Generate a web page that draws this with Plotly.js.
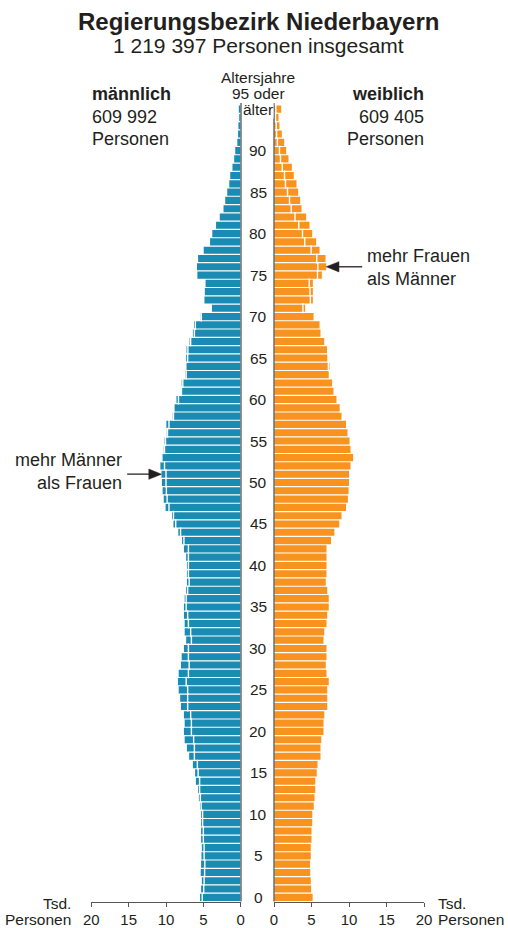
<!DOCTYPE html>
<html>
<head>
<meta charset="utf-8">
<script src="https://cdn.plot.ly/plotly-3.0.1.min.js"></script>
<style>html,body{margin:0;padding:0;background:#fff;}#chart{width:508px;height:928px;}</style>
</head>
<body>
<div id="chart"></div>
<script>
// ---- data (thousand persons per single year of age, index = age, 95 = "95 oder älter") ----
const ages = Array.from({length: 96}, (_, i) => i);
const male = [
  5.45, 5.3, 5.2, 5.35, 5.3, 5.25, 5.2, 5.3, 5.3, 5.3,
  5.3, 5.45, 5.6, 5.7, 6.0, 6.1, 6.4, 6.9, 7.2, 7.5,
  7.6, 7.5, 7.6, 8.0, 8.1, 8.3, 8.4, 8.3, 8.0, 7.9,
  7.6, 7.3, 7.5, 7.5, 7.6, 7.6, 7.5, 7.3, 7.2, 7.2,
  7.2, 7.3, 7.6, 7.85, 8.35, 9.0, 9.2, 10.05, 10.3, 10.45,
  10.55, 10.6, 10.75, 10.57, 10.3, 10.2, 9.9, 9.95, 9.1, 8.85,
  8.6, 8.0, 7.9, 7.4, 7.25, 7.3, 7.25, 6.85, 6.4, 6.25,
  5.35, 3.85, 4.85, 4.8, 4.7, 5.8, 5.85, 5.7, 4.95, 4.1,
  3.8, 3.3, 2.8, 2.3, 2.07, 1.8, 1.53, 1.4, 1.1, 0.87,
  0.73, 0.45, 0.35, 0.3, 0.2, 0.25
];
const female = [
  5.15, 4.95, 4.9, 4.83, 4.8, 4.9, 4.9, 5.0, 5.0, 5.1,
  5.1, 5.3, 5.4, 5.5, 5.5, 5.7, 5.8, 6.2, 6.2, 6.3,
  6.6, 6.6, 6.7, 7.1, 7.1, 7.1, 7.3, 7.0, 6.9, 7.0,
  7.0, 6.6, 6.7, 7.0, 7.1, 7.3, 7.3, 7.1, 6.9, 7.0,
  7.0, 7.0, 7.0, 7.6, 8.05, 8.7, 9.0, 9.6, 9.85, 9.95,
  10.0, 10.0, 10.2, 10.55, 10.2, 10.07, 9.8, 9.6, 9.0, 8.87,
  8.33, 7.93, 7.75, 7.3, 7.4, 7.1, 7.07, 6.7, 6.2, 6.07,
  5.27, 4.15, 5.18, 5.18, 5.18, 6.38, 6.96, 6.87, 6.07, 5.62,
  5.09, 4.73, 4.29, 3.67, 3.49, 3.22, 3.0, 2.64, 2.38, 1.93,
  1.62, 1.36, 1.04, 0.73, 0.6, 0.96
];
const ageTicks = [0, 5, 10, 15, 20, 25, 30, 35, 40, 45, 50, 55, 60, 65, 70, 75, 80, 85, 90];
const xTicks = [0, 5, 10, 15, 20];
const xTickText = ['0', '5', '10', '15', '20'];

const titleText = 'Regierungsbezirk Niederbayern';
const subtitleText = '1 219 397 Personen insgesamt';
const maleLabel = ['männlich', '609 992', 'Personen'];
const femaleLabel = ['weiblich', '609 405', 'Personen'];
const noteFemale = 'mehr Frauen<br>als Männer';
const noteMale = 'mehr Männer<br>als Frauen';

// ---- styling ----
const W = 508, H = 928;
const px = x => x / W;
const py = y => 1 - y / H;
const FONT = 'Liberation Sans, Arial, Helvetica, sans-serif';
const TXT = '#231f20';
const BLUE = '#1a8bb2';
const ORANGE = '#f7931e';

// white divider where the other sex's count lies inside the own bar
function dividers(own, other) {
  const a = [], x = [];
  own.forEach((v, i) => { if (other[i] < v) { a.push(ages[i]); x.push(other[i]); } });
  return {a, x};
}
const dm = dividers(male, female);
const df = dividers(female, male);

const traces = [
  {type: 'bar', orientation: 'h', x: male, y: ages, xaxis: 'x', yaxis: 'y',
   marker: {color: BLUE, line: {width: 0}}},
  {type: 'scatter', mode: 'markers', x: dm.x, y: dm.a, xaxis: 'x', yaxis: 'y',
   marker: {symbol: 'line-ns', size: 7, line: {color: '#ffffff', width: 1.4}}},
  {type: 'bar', orientation: 'h', x: female, y: ages, xaxis: 'x2', yaxis: 'y',
   marker: {color: ORANGE, line: {width: 0}}},
  {type: 'scatter', mode: 'markers', x: df.x, y: df.a, xaxis: 'x2', yaxis: 'y',
   marker: {symbol: 'line-ns', size: 7, line: {color: '#ffffff', width: 1.4}}}
];

const xCommon = {
  anchor: 'y', tickvals: xTicks, ticktext: xTickText, ticks: 'outside', ticklen: 4,
  tickcolor: '#555', tickwidth: 1, showline: true, linecolor: '#555', linewidth: 1,
  showgrid: false, zeroline: false, fixedrange: true,
  tickfont: {family: FONT, size: 15, color: TXT}
};

const annotations = [];
function txt(text, x, y, size, opts) {
  annotations.push(Object.assign({text: text, xref: 'paper', yref: 'paper', x: px(x), y: py(y),
    showarrow: false, xanchor: 'center', yanchor: 'middle', borderpad: 0,
    font: {family: FONT, size: size, color: TXT}}, opts || {}));
}
txt('<b>' + titleText + '</b>', 258.5, 21, 24);
txt(subtitleText, 258.5, 46, 21);
txt('<b>' + maleLabel[0] + '</b>', 91, 94, 18, {xanchor: 'left'});
txt(maleLabel[1], 91, 117, 18, {xanchor: 'left'});
txt(maleLabel[2], 91, 139, 18, {xanchor: 'left'});
txt('<b>' + femaleLabel[0] + '</b>', 425, 94, 18, {xanchor: 'right'});
txt(femaleLabel[1], 425, 117, 18, {xanchor: 'right'});
txt(femaleLabel[2], 425, 139, 18, {xanchor: 'right'});
txt('Altersjahre', 258, 77, 15.5);
txt('95 oder', 258, 93, 15.5);
txt('älter', 258, 109, 15.5, {bgcolor: '#ffffff'});
txt('Tsd.', 72, 903, 15.5, {xanchor: 'right'});
txt('Personen', 72, 919, 15.5, {xanchor: 'right'});
txt('Tsd.', 437, 903, 15.5, {xanchor: 'left'});
txt('Personen', 437, 919, 15.5, {xanchor: 'left'});
txt(noteFemale, 366, 268, 18, {xanchor: 'left', align: 'left'});
txt(noteMale, 123, 472, 18, {xanchor: 'right', align: 'right'});

ageTicks.forEach(a => {
  annotations.push({text: String(a), xref: 'paper', yref: 'y', x: px(258), y: a,
    showarrow: false, xanchor: 'center', yanchor: 'middle', borderpad: 0,
    font: {family: FONT, size: 15.5, color: TXT}});
});

// arrows (drawn as shapes in data units, pointing at the bar ends)
function arrow(xref, tipX, age, tailLen) {
  const head = 1.7, half = 0.62;
  return [
    {type: 'line', xref: xref, yref: 'y', x0: tipX + head - 0.2, x1: tipX + tailLen, y0: age, y1: age,
     line: {color: TXT, width: 1.3}},
    {type: 'path', xref: xref, yref: 'y',
     path: 'M' + tipX + ',' + age + ' L' + (tipX + head) + ',' + (age + half) +
           ' L' + (tipX + head) + ',' + (age - half) + ' Z',
     fillcolor: TXT, line: {color: TXT, width: 0.5}}
  ];
}

const layout = {
  width: W, height: H,
  margin: {l: 0, r: 0, t: 0, b: 0, pad: 0},
  paper_bgcolor: '#ffffff', plot_bgcolor: 'rgba(0,0,0,0)',
  showlegend: false, barmode: 'overlay', bargap: 0.14,
  font: {family: FONT, color: TXT},
  xaxis: Object.assign({}, xCommon, {domain: [px(91.3), px(240.7)], range: [20, 0]}),
  xaxis2: Object.assign({}, xCommon, {domain: [px(274), px(424)], range: [0, 20]}),
  yaxis: {domain: [py(901.5), py(105)], range: [-0.5, 95.5], visible: false, fixedrange: true},
  shapes: [
    {type: 'line', xref: 'paper', yref: 'paper', x0: px(241), x1: px(241), y0: py(901.5), y1: py(103),
     line: {color: '#6d6e70', width: 1.5}},
    {type: 'line', xref: 'paper', yref: 'paper', x0: px(274), x1: px(274), y0: py(901.5), y1: py(103),
     line: {color: '#6d6e70', width: 1.5}}
  ].concat(arrow('x2', female[76], 76, 4.8), arrow('x', male[51], 51, 4.6)),
  annotations: annotations
};

Plotly.newPlot('chart', traces, layout, {staticPlot: true, displayModeBar: false});
</script>
</body>
</html>
